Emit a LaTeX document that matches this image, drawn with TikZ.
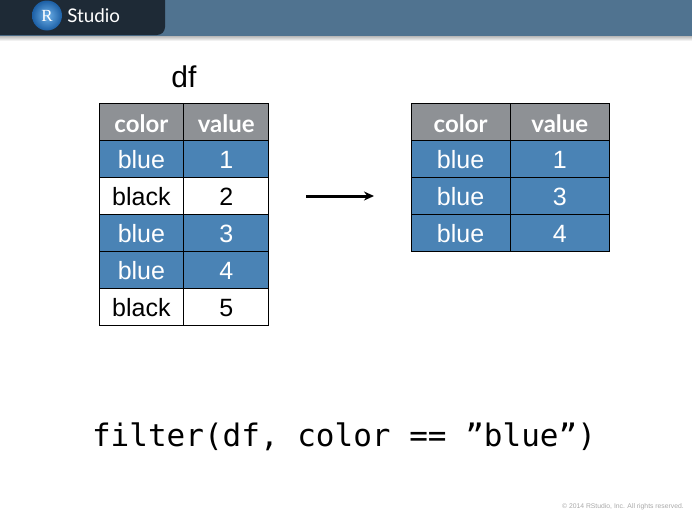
\documentclass[tikz,border=0pt]{standalone}
\usepackage{fontspec}
\setmainfont{Liberation Sans}
\newfontfamily\labfont{Lato}
\newfontfamily\codefont{DejaVu Sans Mono}
\newfontfamily\logofont{Liberation Serif}
\usepackage{tikz}
\usetikzlibrary{arrows.meta,positioning,calc,shadings}
\definecolor{rowblue}{HTML}{4A83B5}
\definecolor{headgray}{HTML}{8E9195}
\definecolor{barblue}{HTML}{507390}
\definecolor{bardark}{HTML}{1E2A36}
\definecolor{footgray}{HTML}{A8A8A8}
\definecolor{ballin}{HTML}{6FB2EA}
\definecolor{ballout}{HTML}{1C5FA5}
\tikzset{
  cell/.style={draw=black,line width=0.8pt,inner sep=0pt,outer sep=0pt,minimum height=37pt,
    text height=20pt,text depth=0pt,font=\fontsize{25}{25}\selectfont},
  cellb/.style={cell,fill=rowblue,text=white},
  cellw/.style={cell,fill=white,text=black},
  cellh/.style={cell,fill=headgray,text=white,text height=21pt,font=\labfont\bfseries\fontsize{24}{25}\selectfont},
  lc/.style={minimum width=84.8pt},
  rc/.style={minimum width=99.2pt},
  flow/.style={-{Stealth[length=10pt,width=9pt]},line width=3pt,draw=black},
}
\begin{document}
\begin{tikzpicture}[x=1pt,y=-1pt,node distance=0pt]
  \useasboundingbox (0,0) rectangle (692,514);
  % top bar
  \fill[barblue] (0,0) rectangle (692,36);
  \shade[top color=black!28,bottom color=white] (0,36) rectangle (692,41);
  \fill[bardark] (0,0) -- (165,0) [rounded corners=8pt] -- (165,35) [sharp corners] -- (0,35) -- cycle;
  \node[circle,minimum size=30pt,inner sep=0pt,shading=radial,inner color=ballin,outer color=ballout,text=white,
    font=\logofont\fontsize{17}{17}\selectfont](logo) at (47,15.5){R};
  \node[inner sep=0pt,text=white,font=\labfont\fontsize{18.8}{21}\selectfont,right=5pt of logo](brand){Studio};
  % left table
  \node[inner sep=0pt,font=\fontsize{30}{30}\selectfont](dfname) at (184,77){df};
  \node[cellh,lc,anchor=north west](a0) at (99,103){color};
  \node[cellh,lc,right=of a0](b0){value};
  \node[cellb,lc,below=of a0](a1){blue};
  \node[cellb,lc,right=of a1](b1){1};
  \node[cellw,lc,below=of a1](a2){black};
  \node[cellw,lc,right=of a2](b2){2};
  \node[cellb,lc,below=of a2](a3){blue};
  \node[cellb,lc,right=of a3](b3){3};
  \node[cellb,lc,below=of a3](a4){blue};
  \node[cellb,lc,right=of a4](b4){4};
  \node[cellw,lc,below=of a4](a5){black};
  \node[cellw,lc,right=of a5](b5){5};
  % right table
  \node[cellh,rc,anchor=north west](c0) at (411,103){color};
  \node[cellh,rc,right=of c0](d0){value};
  \node[cellb,rc,below=of c0](c1){blue};
  \node[cellb,rc,right=of c1](d1){1};
  \node[cellb,rc,below=of c1](c2){blue};
  \node[cellb,rc,right=of c2](d2){3};
  \node[cellb,rc,below=of c2](c3){blue};
  \node[cellb,rc,right=of c3](d3){4};
  \coordinate(from) at (306,196);
  \coordinate(to) at (374,196);
  \draw[flow](from)--(to);
  \node[inner sep=0pt,font=\codefont\fontsize{31}{31}\selectfont](call) at (344,437){filter(df, color == ”blue”)};
  \node[inner sep=0pt,text=footgray,anchor=east,font=\fontsize{6.8}{8}\selectfont](foot) at (684,506.5){© 2014 RStudio, Inc. All rights reserved.};
\end{tikzpicture}
\end{document}
